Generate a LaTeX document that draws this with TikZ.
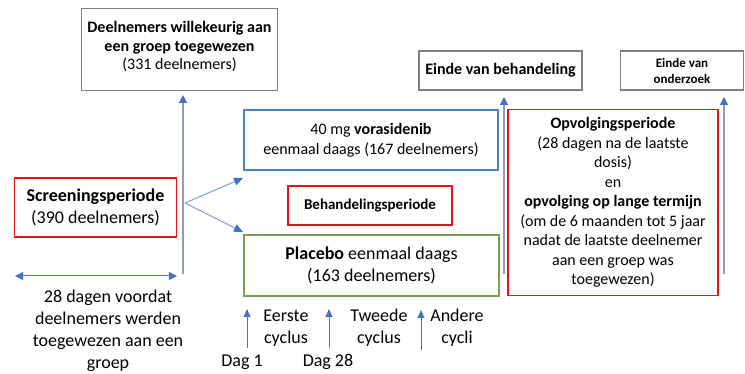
\documentclass[tikz,border=0pt]{standalone}
\usepackage{fontspec}
\setmainfont{Carlito}
\usetikzlibrary{arrows.meta}
\definecolor{boxgray}{HTML}{7F7F7F}
\definecolor{boxblue}{HTML}{4F81BD}
\definecolor{boxgreen}{HTML}{77A055}
\definecolor{boxred}{HTML}{E3151C}
\definecolor{tipblue}{HTML}{4472C4}
\definecolor{linegray}{HTML}{8E9DC0}
\definecolor{lineblue}{HTML}{7F9FD8}
\tikzset{
  box/.style={draw, line width=1.4pt, align=center, inner sep=2pt},
  graybox/.style={box, draw=boxgray},
  redbox/.style={box, draw=boxred},
  bluebox/.style={box, draw=boxblue},
  greenbox/.style={box, draw=boxgreen},
  uparrow/.style={draw=linegray, line width=1.2pt, -{Triangle[length=8pt,width=8pt,color=tipblue]}},
  smallarrow/.style={draw=tipblue, line width=1pt, -{Triangle[length=8pt,width=7pt,color=tipblue]}},
  diagarrow/.style={draw=lineblue, line width=1pt, -{Triangle[length=9pt,width=8pt,color=tipblue]}},
  dblarrow/.style={draw=tipblue, line width=1pt, {Triangle[length=8pt,width=8pt]}-{Triangle[length=8pt,width=8pt]}},
  lbl/.style={align=center, inner sep=0pt, font=\fontsize{18}{22}\selectfont},
}
\begin{document}
\begin{tikzpicture}[x=1pt,y=-1pt]
\useasboundingbox (0,0) rectangle (745,374);
% boxes
\node[graybox, minimum width=196pt, minimum height=82pt, font=\fontsize{16}{18.5}\selectfont] (rand) at (179.5,49.5)
  {\textbf{Deelnemers willekeurig aan}\\\textbf{een groep toegewezen}\\(331 deelnemers)\rule[-8pt]{0pt}{8pt}};
\node[redbox, minimum width=162pt, minimum height=59pt, font=\fontsize{18}{22}\selectfont] (screen) at (95.5,207.5)
  {\textbf{Screeningsperiode}\\(390 deelnemers)};
\node[bluebox, minimum width=254pt, minimum height=60pt, font=\fontsize{16}{20}\selectfont] (vora) at (371,140)
  {40 mg \textbf{vorasidenib}\\eenmaal daags (167 deelnemers)};
\node[redbox, minimum width=164pt, minimum height=39pt, font=\fontsize{15}{18}\selectfont] (behand) at (370,205.5)
  {\textbf{Behandelingsperiode}};
\node[greenbox, minimum width=255pt, minimum height=61pt, font=\fontsize{18}{22}\selectfont] (placebo) at (371.5,265.5)
  {\textbf{Placebo} eenmaal daags\\(163 deelnemers)};
\node[graybox, minimum width=163pt, minimum height=39pt, font=\fontsize{16}{19}\selectfont] (eindeb) at (500.5,70.5)
  {\textbf{Einde van behandeling}};
\node[graybox, minimum width=123pt, minimum height=39pt, font=\fontsize{13}{16}\selectfont] (eindeo) at (682,70.5)
  {\textbf{Einde van}\\\textbf{onderzoek}};
\node[redbox, minimum width=210pt, minimum height=186pt, font=\fontsize{16}{19.5}\selectfont] (opv) at (613,202.5)
  {\textbf{Opvolgingsperiode}\\(28 dagen na de laatste\\dosis)\\en\\\textbf{opvolging op lange termijn}\\(om de 6 maanden tot 5 jaar\\nadat de laatste deelnemer\\aan een groep was\\toegewezen)};
% coordinates for arrows
\coordinate (a1b) at (183,274);
\coordinate (a1t) at (183,95);
\coordinate (a2b) at (504,274);
\coordinate (a2t) at (504,97);
\coordinate (a3b) at (724,274);
\coordinate (a3t) at (724,97);
\coordinate (fork) at (185,203);
\coordinate (tv) at (243,178);
\coordinate (tp) at (243,232);
\coordinate (dl) at (15,276);
\coordinate (dr) at (177,276);
\coordinate (s1b) at (247,348);
\coordinate (s1t) at (247,309);
\coordinate (s2b) at (329,348);
\coordinate (s2t) at (329,309);
\coordinate (s3b) at (421,350);
\coordinate (s3t) at (421,310);
% arrows
\draw[uparrow] (a1b) -- (a1t);
\draw[uparrow] (a2b) -- (a2t);
\draw[uparrow] (a3b) -- (a3t);
\draw[diagarrow] (fork) -- (tv);
\draw[diagarrow] (fork) -- (tp);
\draw[dblarrow] (dl) -- (dr);
\draw[smallarrow] (s1b) -- (s1t);
\draw[smallarrow] (s2b) -- (s2t);
\draw[smallarrow] (s3b) -- (s3t);
% labels
\node[lbl] (dagen) at (108,331) {28 dagen voordat\\deelnemers werden\\toegewezen aan een\\groep};
\node[lbl] (eerste) at (286,328) {Eerste\\cyclus};
\node[lbl] (tweede) at (379,328) {Tweede\\cyclus};
\node[lbl] (andere) at (457,328) {Andere\\cycli};
\node[lbl] (dag1) at (242,362) {Dag 1};
\node[lbl] (dag28) at (328,362) {Dag 28};
\end{tikzpicture}
\end{document}
